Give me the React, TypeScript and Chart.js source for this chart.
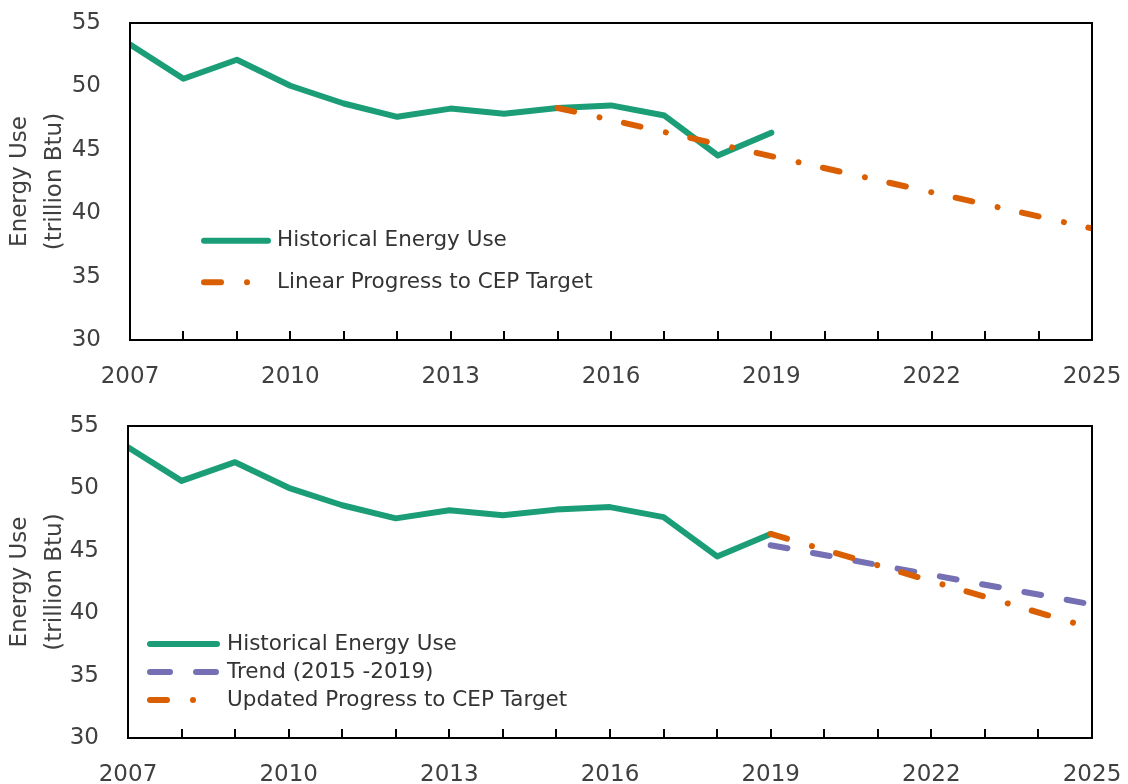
import React, { useEffect, useRef } from "react";
import { Chart, registerables } from "chart.js";

Chart.register(...registerables);

// ---------- data ----------
const historicalYears = [2007, 2008, 2009, 2010, 2011, 2012, 2013, 2014, 2015, 2016, 2017, 2018, 2019];
const historicalValues = [53.3, 50.6, 52.1, 50.05, 48.65, 47.6, 48.25, 47.85, 48.3, 48.5, 47.7, 44.55, 46.35];

const linearTargetYears = [2015, 2025];
const linearTargetValues = [48.3, 38.8];

const trendYears = [2019, 2025];
const trendValues = [45.45, 40.7];

const updatedTargetYears = [2019, 2025];
const updatedTargetValues = [46.35, 38.8];

const xMin = 2007;
const xMax = 2025;
const xLabelStep = 3;
const yMin = 30;
const yMax = 55;
const yStep = 5;

const yTitle = ["Energy Use", "(trillion Btu)"];
const labelHistorical = "Historical Energy Use";
const labelLinear = "Linear Progress to CEP Target";
const labelTrend = "Trend (2015 -2019)";
const labelUpdated = "Updated Progress to CEP Target";

// ---------- styles ----------
const GREEN = "#1b9e77";
const ORANGE = "#d95f02";
const PURPLE = "#7570b3";
const FONT = "'DejaVu Sans', sans-serif";
const TEXT = "#404040";
const ORANGE_DASH = [17, 26, 0.01, 25];
const PURPLE_DASH = [17, 26];

const pts = (xs: number[], ys: number[]) => xs.map((x, i) => ({ x, y: ys[i] }));

const framePlugin = {
  id: "frameAndLegend",
  afterDatasetsDraw(chart: any, _args: any, opts: any) {
    const { ctx, chartArea: a, scales } = chart;
    ctx.save();
    // minor ticks, pointing inward
    ctx.strokeStyle = "#000";
    ctx.lineWidth = 2;
    ctx.setLineDash([]);
    const xs = scales.x;
    for (let yr = xs.min + 1; yr < xs.max; yr++) {
      const px = Math.round(xs.getPixelForValue(yr));
      ctx.beginPath();
      ctx.moveTo(px, a.bottom);
      ctx.lineTo(px, a.bottom - 9);
      ctx.stroke();
    }
    // frame
    ctx.strokeRect(a.left, a.top, a.right - a.left, a.bottom - a.top);

    // legend
    const items = opts.items || [];
    items.forEach((it: any, i: number) => {
      const y = opts.y + i * opts.rowGap;
      ctx.beginPath();
      ctx.strokeStyle = it.color;
      ctx.lineWidth = 6;
      ctx.lineCap = "round";
      ctx.setLineDash(it.dash || []);
      ctx.moveTo(opts.x, y);
      ctx.lineTo(opts.x + opts.sampleWidth, y);
      ctx.stroke();
      ctx.setLineDash([]);
      ctx.fillStyle = "#333";
      ctx.font = `21.5px ${FONT}`;
      ctx.textAlign = "left";
      ctx.textBaseline = "middle";
      ctx.fillText(it.text, opts.textX, y);
    });
    ctx.restore();
  },
};

function makeConfig(datasets: any[], legend: any, leftWidth: number, padTop: number, xHeight: number) {
  return {
    type: "line",
    data: { datasets },
    plugins: [framePlugin],
    options: {
      animation: false,
      responsive: false,
      devicePixelRatio: 1,
      layout: { padding: { left: 0, right: 36, top: padTop, bottom: 0 } },
      plugins: {
        legend: { display: false },
        tooltip: { enabled: false },
        frameAndLegend: legend,
      },
      elements: { point: { radius: 0 }, line: { tension: 0 } },
      scales: {
        x: {
          type: "linear",
          min: xMin,
          max: xMax,
          grid: { display: false },
          border: { display: false },
          ticks: {
            stepSize: xLabelStep,
            autoSkip: false,
            maxRotation: 0,
            padding: 15,
            color: TEXT,
            font: { family: FONT, size: 23 },
            callback: (v: any) => String(v),
          },
          afterFit: (s: any) => {
            s.height = xHeight;
            s.paddingLeft = 0;
            s.paddingRight = 0;
          },
        },
        y: {
          min: yMin,
          max: yMax,
          grid: { display: false },
          border: { display: false },
          ticks: {
            stepSize: yStep,
            padding: 21,
            color: TEXT,
            font: { family: FONT, size: 23 },
          },
          title: {
            display: true,
            text: yTitle,
            color: TEXT,
            font: { family: FONT, size: 23, lineHeight: 1.52 },
            padding: { top: 3, bottom: 0 },
          },
          afterFit: (s: any) => {
            s.width = leftWidth;
            s.paddingTop = 0;
            s.paddingBottom = 0;
          },
        },
      },
    },
  };
}

function lineDs(label: string, data: any[], color: string, dash: number[], order: number) {
  return {
    label,
    data,
    borderColor: color,
    backgroundColor: color,
    borderWidth: 6,
    borderDash: dash,
    borderCapStyle: "round",
    borderJoinStyle: "round",
    pointRadius: 0,
    fill: false,
    order,
  };
}

function ChartCanvas({ config }: { config: () => any }) {
  const ref = useRef<HTMLCanvasElement | null>(null);
  useEffect(() => {
    if (!ref.current) return;
    const chart = new Chart(ref.current, config());
    return () => chart.destroy();
  }, []);
  return <canvas ref={ref} width={1128} height={392} style={{ display: "block", width: 1128, height: 392 }} />;
}

export default function App() {
  const topConfig = () =>
    makeConfig(
      [
        lineDs(labelHistorical, pts(historicalYears, historicalValues), GREEN, [], 2),
        lineDs(labelLinear, pts(linearTargetYears, linearTargetValues), ORANGE, ORANGE_DASH, 0),
      ],
      {
        x: 204,
        y: 240.7,
        rowGap: 41.6,
        sampleWidth: 64,
        textX: 277,
        items: [
          { text: labelHistorical, color: GREEN, dash: [] },
          { text: labelLinear, color: ORANGE, dash: ORANGE_DASH },
        ],
      },
      130,
      23,
      52
    );
  const bottomConfig = () =>
    makeConfig(
      [
        lineDs(labelHistorical, pts(historicalYears, historicalValues), GREEN, [], 2),
        lineDs(labelTrend, pts(trendYears, trendValues), PURPLE, PURPLE_DASH, 1),
        lineDs(labelUpdated, pts(updatedTargetYears, updatedTargetValues), ORANGE, ORANGE_DASH, 0),
      ],
      {
        x: 150,
        y: 644 - 392,
        rowGap: 28,
        sampleWidth: 67,
        textX: 227,
        items: [
          { text: labelHistorical, color: GREEN, dash: [] },
          { text: labelTrend, color: PURPLE, dash: [20, 26] },
          { text: labelUpdated, color: ORANGE, dash: ORANGE_DASH },
        ],
      },
      128,
      34,
      46
    );
  return (
    <div style={{ position: "fixed", left: 0, top: 0, width: 1128, height: 784, background: "#fff" }}>
      <ChartCanvas config={topConfig} />
      <ChartCanvas config={bottomConfig} />
    </div>
  );
}
